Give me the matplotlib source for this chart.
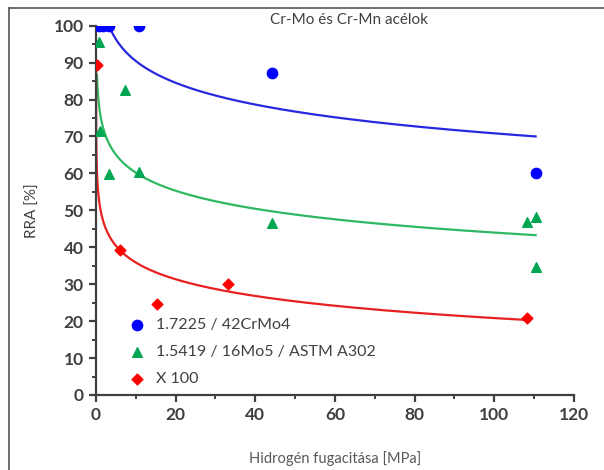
import numpy as np
import matplotlib
matplotlib.use("Agg")
import matplotlib.pyplot as plt
from matplotlib.lines import Line2D
from matplotlib.ticker import MultipleLocator

plt.rcParams['font.family'] = ['Lato', 'DejaVu Sans']

# measured points (x = hydrogen fugacity, y = RRA %)
crmo_x = [0.8, 1.8, 3.3, 10.8, 44.3, 110.4]
crmo_y = [100, 100, 100, 100, 87.3, 60.1]
mo_x = [0.7, 1.0, 3.3, 7.3, 10.9, 44.2, 108.2, 110.6, 110.6]
mo_y = [95.5, 71.6, 59.8, 82.6, 60.5, 46.5, 46.9, 48.3, 34.6]
x100_x = [0.17, 5.9, 15.3, 33.1, 108.3]
x100_y = [89.4, 39.3, 24.6, 30.1, 20.8]

# logarithmic trend lines y = a - b*ln(x), coefficients
crmo_fit = (110.0, 8.5, 3.3, 110.4)
mo_fit = (76.4, 7.04, 0.23, 110.4)
x100_fit = (50.9, 6.53, 0.004, 108.3)

labels = ["1.7225 / 42CrMo4", "1.5419 / 16Mo5 / ASTM A302", "X 100"]
colors = ["#0000ff", "#00a651", "#ff0000"]
line_colors = ["#2828e0", "#2eb862", "#e82020"]

fig = plt.figure(figsize=(6.04, 4.70), dpi=100)
ax = fig.add_axes([0.159, 0.1596, 0.791, 0.7857])

fits = [crmo_fit, mo_fit, x100_fit]
for (a, b, x0, x1), c in zip(fits, line_colors):
    xs = np.geomspace(x0, x1, 300)
    ax.plot(xs, a - b * np.log(xs), color=c, lw=1.6, zorder=2)

ax.scatter(crmo_x, crmo_y, s=55, marker='o', color=colors[0], zorder=3, label=labels[0])
ax.scatter(mo_x, mo_y, s=48, marker='^', color=colors[1], zorder=3, label=labels[1])
ax.scatter(x100_x, x100_y, s=30, marker='D', color=colors[2], zorder=3, label=labels[2])

ax.set_xlim(0, 120)
ax.set_ylim(0, 100)
ax.xaxis.set_major_locator(MultipleLocator(20))
ax.xaxis.set_minor_locator(MultipleLocator(10))
ax.yaxis.set_major_locator(MultipleLocator(10))
ax.yaxis.set_minor_locator(MultipleLocator(5))
for s in ['top', 'right']:
    ax.spines[s].set_visible(False)
for s in ['left', 'bottom']:
    ax.spines[s].set_color('#404040')
    ax.spines[s].set_linewidth(1.6)
    ax.spines[s].set_clip_on(False)
ax.tick_params(which='major', direction='out', length=5, width=1.6, color='#404040',
               labelsize=12.5, labelcolor='#404040', pad=4)
ax.tick_params(which='minor', direction='out', length=3, width=1.4, color='#404040')
for lab in ax.get_xticklabels() + ax.get_yticklabels():
    lab.set_fontweight('bold')

ax.set_xlabel("Hidrogén fugacitása [MPa]", fontsize=10.5, color='#595959', labelpad=20)
ax.set_ylabel("RRA [%]", fontsize=11, color='#404040', labelpad=10)
ax.text(0.53, 1.015, "Cr-Mo és Cr-Mn acélok", transform=ax.transAxes, ha='center', va='center',
        fontsize=11, color='#404040')

ax.legend(loc='lower left', bbox_to_anchor=(0.035, -0.015), frameon=False, fontsize=11.5,
          handletextpad=0.6, labelspacing=0.8, handlelength=1.2, labelcolor='#404040')

# outer frame of the original picture
fig.add_artist(Line2D([9 / 604, 1], [1 - 7.5 / 470] * 2, color='#555555', lw=1.2))
fig.add_artist(Line2D([9 / 604] * 2, [0, 1 - 7.5 / 470], color='#555555', lw=1.2))

fig.savefig("out.png", dpi=100)
